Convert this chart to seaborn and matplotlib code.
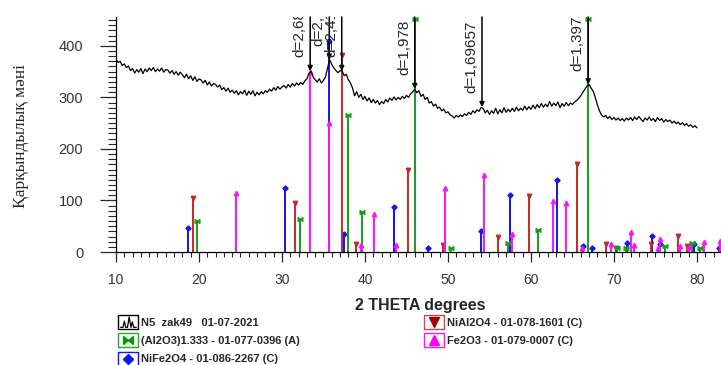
import numpy as np
import pandas as pd
import seaborn as sns
import matplotlib.pyplot as plt
from matplotlib.lines import Line2D
from matplotlib.path import Path
from matplotlib.ticker import MultipleLocator
from matplotlib.legend_handler import HandlerTuple
import matplotlib.transforms as mtransforms

sns.set_style("ticks")
plt.rcParams['font.family'] = ['Liberation Sans', 'DejaVu Sans']

# measured pattern, step 0.25 deg starting at 10 deg
counts = [
    374, 368, 370, 362, 365, 358, 361, 352, 356,
    347, 354, 349, 356, 346, 355, 350, 357,
    352, 358, 350, 355, 351, 357, 349, 354,
    353, 347, 352, 345, 350, 343, 349, 344,
    338, 345, 336, 342, 333, 340, 331, 336,
    334, 328, 333, 324, 330, 322, 327, 325,
    320, 324, 315, 319, 312, 318, 310, 314,
    308, 313, 305, 311, 307, 314, 304, 312,
    306, 313, 303, 310, 305, 311, 307, 313,
    310, 316, 312, 319, 314, 321, 316, 320,
    323, 318, 325, 320, 327, 322, 328, 324,
    329, 325, 332, 336,
    346, 351, 340, 334,
    330, 336, 328, 333,
    340, 358, 373, 364,
    357, 352, 348, 352,
    351, 342, 345, 334,
    328, 318, 303, 311,
    300, 306, 296, 302,
    293, 299, 290, 296,
    289, 294, 286, 292,
    288, 296, 291, 299,
    294, 301, 295, 300,
    296, 302, 298, 304,
    300, 307, 311, 316,
    309, 313, 302, 306,
    296, 300, 289, 292,
    283, 287, 279, 281,
    274, 277, 270, 272,
    266, 264, 260, 265,
    262, 266, 263, 268,
    265, 271, 267, 274,
    270, 276, 273, 281,
    278, 270, 275, 267,
    274, 269, 279, 268,
    276, 270, 280, 271,
    277, 272, 279, 273,
    281, 274, 279, 275,
    283, 276, 282, 277,
    285, 278, 286, 280,
    288, 281, 287, 282,
    292, 283, 289, 284,
    291, 280, 288, 283,
    290, 284, 289, 286,
    291, 294, 298, 303,
    310, 316, 322, 325,
    318, 312, 300, 286,
    274, 266, 262, 265,
    259, 263, 257, 261,
    256, 260, 255, 259,
    254, 260, 256, 261,
    255, 262, 257, 263,
    258, 253, 260, 256,
    262, 255, 259, 253,
    261, 255, 259, 252,
    257, 253, 256, 250,
    254, 249, 252, 247,
    251, 246, 249, 244,
    247, 242, 245, 241,
]
two_theta = 10 + 0.25 * np.arange(len(counts))

# reference cards (stick patterns)
nife2o4_pos = [18.7, 30.4, 35.7, 37.5, 43.5, 47.6, 54.0, 57.5, 63.1, 66.3, 67.4, 71.6, 74.6, 75.6, 79.6, 82.6]
nife2o4_int = [47, 125, 410, 35, 88, 8, 40, 110, 140, 12, 8, 17, 31, 15, 15, 8]
nial2o4_pos = [19.3, 31.6, 37.2, 38.9, 45.2, 49.4, 56.0, 59.8, 65.6, 69.1, 70.2, 74.5, 77.7, 78.8]
nial2o4_int = [104, 95, 383, 15, 160, 14, 30, 108, 170, 15, 8, 15, 31, 12]
al2o3_pos = [19.7, 32.2, 37.9, 39.7, 46.0, 50.4, 57.2, 60.9, 66.9, 70.4, 71.4, 76.1, 79.4, 80.4]
al2o3_int = [60, 65, 265, 77, 453, 7, 17, 43, 453, 7, 7, 12, 17, 7]
fe2o3_pos = [24.4, 33.4, 35.7, 39.5, 41.1, 43.7, 49.7, 54.3, 57.7, 62.6, 64.2, 66.1, 69.7, 72.1, 72.4,
             75.3, 75.6, 77.9, 79.0, 80.8, 82.8]
fe2o3_int = [115, 350, 250, 14, 73, 14, 125, 150, 35, 99, 96, 8, 16, 38, 14, 7, 26, 12, 9, 20, 22]

# marked peaks
peak_pos = [33.4, 35.7, 37.2, 46.0, 54.1, 66.9]
peak_int = [351, 373, 351, 316, 281, 325]
peak_lbl = ["d=2,68047", "d=2,51312", "d=2,41538", "d=1,978", "d=1,69657", "d=1,39741"]

legend_lbl = ["N5  zak49   01-07-2021", "(Al2O3)1.333 - 01-077-0396 (A)", "NiFe2O4 - 01-086-2267 (C)",
              "NiAl2O4 - 01-078-1601 (C)", "Fe2O3 - 01-079-0007 (C)"]

# custom marker shapes
bowtie = Path([(-1, -0.8), (0, 0), (-1, 0.8), (-1, -0.8), (1, -0.8), (0, 0), (1, 0.8), (1, -0.8)],
              [Path.MOVETO, Path.LINETO, Path.LINETO, Path.CLOSEPOLY,
               Path.MOVETO, Path.LINETO, Path.LINETO, Path.CLOSEPOLY])
rect = Path([(-1.4, -1), (1.4, -1), (1.4, 1), (-1.4, 1), (-1.4, -1)],
            [Path.MOVETO, Path.LINETO, Path.LINETO, Path.LINETO, Path.CLOSEPOLY])
peaks_glyph = Path([(-1.2, -0.7), (-0.8, -0.7), (-0.6, 0.2), (-0.4, -0.7), (-0.15, -0.7), (0.1, 0.8),
                    (0.35, -0.7), (0.55, 0.1), (0.75, -0.7), (1.2, -0.7)])

cards = [
    (nife2o4_pos, nife2o4_int, '#1414f0', 'D', 2.6),
    (nial2o4_pos, nial2o4_int, '#c62828', 'v', 3.2),
    (al2o3_pos, al2o3_int, '#14a014', bowtie, 3.4),
    (fe2o3_pos, fe2o3_int, '#ff10ff', '^', 3.2),
]

fig = plt.figure(figsize=(7.21, 3.65), dpi=100)
ax = fig.add_axes([116 / 721, 113 / 365, 605 / 721, 235 / 365])

for pos, inten, col, mk, size in cards:
    ax.vlines(pos, 0, inten, colors=col, lw=1.4)
    ax.plot(pos, inten, ls='none', marker=mk, ms=size, color=col, clip_on=False)

df = pd.DataFrame({"2theta": two_theta, "counts": counts})
sns.lineplot(data=df, x="2theta", y="counts", ax=ax, color='black', lw=0.9, sort=False)

ax.set_xlim(10, 82.9)
ax.set_ylim(0, 456)

off = mtransforms.ScaledTranslation(-0.035, 0.14, fig.dpi_scale_trans)
for x, y, lab in zip(peak_pos, peak_int, peak_lbl):
    ax.annotate('', xy=(x, y), xytext=(x, 456),
                arrowprops=dict(arrowstyle='-|>', color='black', lw=1.1, mutation_scale=7,
                                shrinkA=0, shrinkB=0))
    ax.text(x, y, lab, rotation=90, ha='right', va='bottom', fontsize=11,
            transform=ax.transData + off, clip_on=True)

ax.xaxis.set_major_locator(MultipleLocator(10))
ax.xaxis.set_minor_locator(MultipleLocator(1))
ax.yaxis.set_major_locator(MultipleLocator(100))
ax.yaxis.set_minor_locator(MultipleLocator(10))
ax.tick_params(axis='x', which='major', length=7.2, width=0.9, pad=8, labelsize=10, labelcolor='#333333')
ax.tick_params(axis='x', which='minor', length=3.6, width=0.8)
ax.tick_params(axis='y', which='major', length=11.5, width=0.9, pad=12, labelsize=10.5, labelcolor='#333333')
ax.tick_params(axis='y', which='minor', length=5.8, width=0.8)
for s in ['top', 'right']:
    ax.spines[s].set_visible(False)
for s in ['left', 'bottom']:
    ax.spines[s].set_linewidth(0.9)
    ax.spines[s].set_color('black')

ax.set_xlabel("2 THETA degrees", fontsize=11.5, fontweight='bold')
ax.xaxis.label.set_va('center')
ax.xaxis.set_label_coords(0.503, (252 - 305.7) / 235)
ax.set_ylabel("Қарқындылық мәні", fontsize=12.5, family=['Liberation Serif', 'DejaVu Serif'])
ax.yaxis.label.set_va('center')
ax.yaxis.set_label_coords((21 - 116) / 605, (252 - 136) / 235)

def box(ec):
    return Line2D([], [], ls='none', marker=rect, ms=14.4, mfc='white', mec=ec, mew=1.0)

handles = [
    (box('black'), Line2D([], [], ls='none', marker=peaks_glyph, ms=12, mfc='none', mec='black', mew=0.9)),
    (box('#20b020'), Line2D([], [], ls='none', marker=bowtie, ms=7, color='#00a000')),
    (box('#1414f0'), Line2D([], [], ls='none', marker='D', ms=5, color='#1414f0')),
    (box('#c84848'), Line2D([], [], ls='none', marker='v', ms=7, color='#a00000')),
    (box('#ff10ff'), Line2D([], [], ls='none', marker='^', ms=7, color='#ff00ff')),
]
fig.legend(handles, legend_lbl, handler_map={tuple: HandlerTuple(ndivide=1, pad=0)},
           ncol=2, loc='upper left', bbox_to_anchor=(118 / 721, 1 - 318 / 365), frameon=False,
           prop={'size': 8, 'weight': 'bold'}, handlelength=1.8, handletextpad=0.25,
           labelspacing=0.74, columnspacing=11.2, borderpad=0, borderaxespad=0)

fig.savefig("out.png", dpi=100)
